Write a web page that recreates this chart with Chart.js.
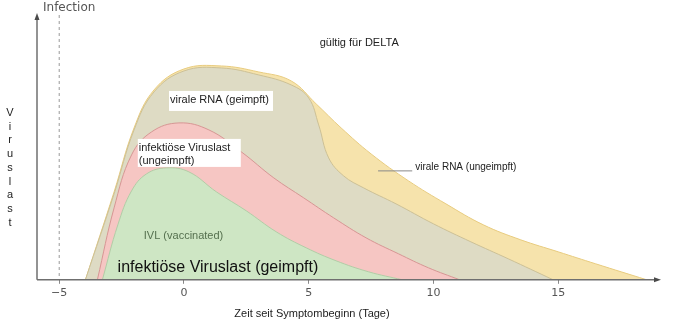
<!DOCTYPE html>
<html>
<head>
<meta charset="utf-8">
<script src="https://cdn.jsdelivr.net/npm/chart.js@4.4.0/dist/chart.umd.min.js"></script>
<style>
  html, body { margin: 0; padding: 0; background: #fff; }
  #wrap { width: 676px; height: 333px; }
</style>
</head>
<body>
<div id="wrap"><canvas id="viralChart" width="676" height="333"></canvas></div>
<script>
// days since symptom onset / relative viral load
var rnaUnvacDays = [-3.95, -2.8, -2.0, -1.2, 0, 1.5, 3.0, 4.3, 5.3, 6.3, 7.5, 9.0, 10.5, 12.0, 13.5, 15.0, 16.5, 18.55];
var rnaUnvacLoad = [0, 88, 152, 190, 211, 214, 208, 199, 176, 152, 126, 99, 76, 55, 40, 28, 16, 0];

var rnaVacDays = [-3.95, -2.8, -2.0, -1.2, 0, 1.5, 3.0, 4.3, 5.0, 5.4, 5.8, 6.4, 7.2, 8.5, 10.0, 11.5, 13.0, 14.8];
var rnaVacLoad = [0, 86, 150, 188, 209, 212, 205, 195, 182, 155, 122, 104, 92, 76, 56, 38, 21, 0];

var ivlUnvacDays = [-3.47, -2.8, -2.1, -1.3, -0.2, 1.0, 2.3, 3.6, 4.8, 6.0, 7.3, 8.6, 9.8, 11.05];
var ivlUnvacLoad = [0, 72, 125, 148, 157, 150, 128, 102, 82, 62, 42, 26, 12, 0];

var ivlVacDays = [-3.27, -2.65, -2.1, -1.5, -0.7, 0.2, 1.3, 2.5, 3.7, 4.9, 6.1, 7.4, 8.75];
var ivlVacLoad = [0, 55, 89, 106, 112, 108, 88, 69, 48, 32, 19, 8, 0];

var tickDays = [-5, 0, 5, 10, 15];
var infectionDay = -5;

function toPoints(xs, ys) {
    var pts = [];
    xs.forEach(function (x, i) { pts.push({ x: x, y: ys[i] }); });
    return pts;
}

// free text on the picture, anchored in data coordinates
var notes = [
    { text: 'gültig für DELTA', x: 5.44, y: 237, size: 11, color: '#222' },
    { text: 'IVL (vaccinated)', x: -1.61, y: 44, size: 11, color: '#55704f' },
    { text: 'infektiöse Viruslast (geimpft)', x: -2.66, y: 12, size: 16, color: '#111' },
    { text: 'virale RNA (ungeimpft)', x: 9.27, y: 113, size: 10, color: '#222' }
];
var boxes = [
    { lines: ['virale RNA (geimpft)'], x: -0.6, y: 189, w: 104, h: 20 },
    { lines: ['infektiöse Viruslast', '(ungeimpft)'], x: -1.85, y: 141, w: 103, h: 28 }
];

var extras = {
    id: 'extras',
    afterDatasetsDraw: function (chart) {
        var ctx = chart.ctx, xs = chart.scales.x, ys = chart.scales.y, a = chart.chartArea;
        ctx.save();
        // infection marker
        var ix = xs.getPixelForValue(infectionDay);
        ctx.strokeStyle = '#999';
        ctx.lineWidth = 1;
        ctx.setLineDash([3, 3]);
        ctx.beginPath(); ctx.moveTo(ix, a.top - 1); ctx.lineTo(ix, a.bottom); ctx.stroke();
        ctx.setLineDash([]);

        // axes with arrows
        ctx.strokeStyle = '#6f6f6f';
        ctx.fillStyle = '#4a4a4a';
        ctx.lineWidth = 1.5;
        ctx.beginPath(); ctx.moveTo(a.left, a.bottom); ctx.lineTo(a.right, a.bottom); ctx.stroke();
        ctx.beginPath(); ctx.moveTo(a.left, a.bottom); ctx.lineTo(a.left, a.top); ctx.stroke();
        ctx.beginPath(); ctx.moveTo(a.right + 3, a.bottom); ctx.lineTo(a.right - 4, a.bottom - 2.5); ctx.lineTo(a.right - 4, a.bottom + 2.5); ctx.fill();
        ctx.beginPath(); ctx.moveTo(a.left, a.top - 3); ctx.lineTo(a.left - 2.5, a.top + 4); ctx.lineTo(a.left + 2.5, a.top + 4); ctx.fill();

        ctx.textBaseline = 'middle';
        ctx.textAlign = 'left';
        ctx.font = '12px "DejaVu Sans"';
        ctx.fillStyle = '#555';
        ctx.fillText('Infection', 43, 8);

        // leader line for the unvaccinated RNA label
        ctx.strokeStyle = '#888';
        ctx.lineWidth = 1;
        ctx.beginPath();
        ctx.moveTo(xs.getPixelForValue(7.78), ys.getPixelForValue(109));
        ctx.lineTo(xs.getPixelForValue(9.15), ys.getPixelForValue(109));
        ctx.stroke();

        boxes.forEach(function (b) {
            var bx = xs.getPixelForValue(b.x), by = ys.getPixelForValue(b.y);
            ctx.fillStyle = '#fff';
            ctx.fillRect(bx, by, b.w, b.h);
            ctx.fillStyle = '#222';
            ctx.font = '11px Arial';
            b.lines.forEach(function (t, i) { ctx.fillText(t, bx + 1, by + 9 + i * 13); });
        });

        notes.forEach(function (n) {
            ctx.fillStyle = n.color;
            ctx.font = n.size + 'px Arial';
            ctx.fillText(n.text, xs.getPixelForValue(n.x), ys.getPixelForValue(n.y));
        });

        // axis titles
        ctx.fillStyle = '#222';
        ctx.font = '11px Arial';
        ctx.textAlign = 'center';
        ctx.fillText('Zeit seit Symptombeginn (Tage)', 312, 314);
        'Viruslast'.split('').forEach(function (ch, i) {
            ctx.fillText(ch, 10, 113 + i * 13.7);
        });
        ctx.restore();
    }
};

function area(label, pts, fillColor, edgeColor) {
    return {
        label: label,
        data: pts,
        backgroundColor: fillColor,
        borderColor: edgeColor,
        borderWidth: 1,
        fill: 'origin',
        pointRadius: 0,
        tension: 0.4
    };
}

new Chart(document.getElementById('viralChart').getContext('2d'), {
    type: 'line',
    data: {
        datasets: [
            area('IVL geimpft', toPoints(ivlVacDays, ivlVacLoad), 'rgb(206,230,196)', 'rgb(178,204,166)'),
            area('IVL ungeimpft', toPoints(ivlUnvacDays, ivlUnvacLoad), 'rgb(246,198,195)', 'rgb(214,150,148)'),
            area('virale RNA geimpft', toPoints(rnaVacDays, rnaVacLoad), 'rgb(222,219,196)', 'rgb(204,192,150)'),
            area('virale RNA ungeimpft', toPoints(rnaUnvacDays, rnaUnvacLoad), 'rgb(246,227,172)', 'rgb(232,204,128)')
        ]
    },
    options: {
        responsive: false,
        animation: false,
        layout: { padding: { left: 37, right: 18, top: 16, bottom: 30 } },
        plugins: { legend: { display: false }, tooltip: { enabled: false } },
        scales: {
            x: {
                type: 'linear',
                min: -5.89,
                max: 19.0,
                afterBuildTicks: function (axis) {
                    axis.ticks = tickDays.map(function (v) { return { value: v }; });
                },
                grid: { drawOnChartArea: false, tickLength: 4, color: '#888' },
                border: { display: false },
                ticks: {
                    color: '#555',
                    font: { size: 11, family: 'DejaVu Sans' },
                    padding: 3,
                    callback: function (v) { return String(v).replace('-', '\u2212'); }
                }
            },
            y: {
                display: false,
                min: 0,
                max: 264
            }
        }
    },
    plugins: [extras]
});
</script>
</body>
</html>
